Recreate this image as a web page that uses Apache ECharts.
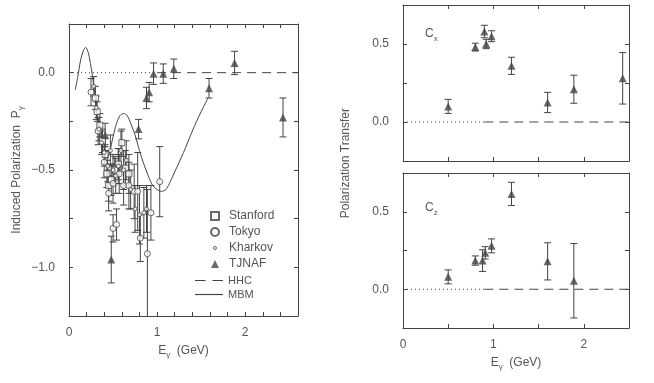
<!DOCTYPE html>
<html>
<head>
<meta charset="utf-8">
<script src="https://cdn.jsdelivr.net/npm/echarts@6/dist/echarts.min.js"></script>
<style>
  html, body { margin: 0; padding: 0; background: #fff; }
  #chart { width: 654px; height: 383px; }
</style>
</head>
<body>
<div id="chart"></div>
<script>
// [E (GeV), value, error]
const stanford = [
    [0.30, -0.13, 0.06], [0.32, -0.20, 0.05], [0.35, -0.27, 0.06], [0.38, -0.35, 0.06],
    [0.41, -0.42, 0.05], [0.43, -0.52, 0.07], [0.45, -0.58, 0.08], [0.48, -0.55, 0.08],
    [0.52, -0.50, 0.07], [0.56, -0.47, 0.08], [0.60, -0.36, 0.07], [0.64, -0.49, 0.09],
    [0.68, -0.52, 0.10]
];
const tokyo = [
    [0.25, -0.10, 0.07], [0.33, -0.30, 0.07], [0.40, -0.46, 0.08], [0.45, -0.62, 0.09],
    [0.50, -0.80, 0.07], [0.54, -0.78, 0.08], [0.50, -0.57, 0.10], [0.57, -0.52, 0.10],
    [0.62, -0.58, 0.10], [0.68, -0.58, 0.12], [0.74, -0.61, 0.14], [0.78, -0.61, 0.20],
    [0.81, -0.85, 0.12], [0.89, -0.93, 0.33], [0.93, -0.72, 0.14], [1.03, -0.56, 0.18]
];
const kharkov = [
    [0.28, -0.07, 0.05], [0.31, -0.18, 0.06], [0.34, -0.29, 0.06], [0.37, -0.36, 0.06],
    [0.40, -0.41, 0.07], [0.44, -0.48, 0.08], [0.47, -0.40, 0.08], [0.50, -0.50, 0.08],
    [0.53, -0.53, 0.09], [0.56, -0.48, 0.09], [0.59, -0.40, 0.10], [0.62, -0.50, 0.10],
    [0.65, -0.45, 0.10], [0.70, -0.60, 0.10], [0.75, -0.70, 0.12], [0.80, -0.73, 0.15],
    [0.85, -0.72, 0.13], [0.88, -0.70, 0.12]
];
const jnafPy = [
    [0.41, -0.32, 0.06], [0.48, -0.96, 0.12], [0.79, -0.29, 0.05], [0.88, -0.13, 0.055],
    [0.91, -0.10, 0.05], [0.96, -0.005, 0.055], [1.07, -0.005, 0.05], [1.19, 0.02, 0.05],
    [1.59, -0.08, 0.05], [1.88, 0.05, 0.06], [2.43, -0.23, 0.10]
];
const jnafCx = [
    [0.50, 0.10, 0.045], [0.80, 0.48, 0.025], [0.90, 0.58, 0.04], [0.92, 0.50, 0.03],
    [0.98, 0.55, 0.035], [1.20, 0.36, 0.055], [1.60, 0.125, 0.065], [1.89, 0.21, 0.09],
    [2.43, 0.28, 0.165]
];
const jnafCz = [
    [0.50, 0.08, 0.045], [0.80, 0.185, 0.03], [0.88, 0.185, 0.07], [0.91, 0.235, 0.04],
    [0.98, 0.28, 0.045], [1.20, 0.615, 0.075], [1.60, 0.18, 0.12], [1.89, 0.055, 0.24]
];
// MBM model curve
const mbm = [
    [0.07, -0.09], [0.10, -0.02], [0.13, 0.06], [0.16, 0.11], [0.19, 0.13], [0.22, 0.10],
    [0.25, 0.03], [0.28, -0.06], [0.31, -0.17], [0.34, -0.28], [0.37, -0.37], [0.40, -0.43],
    [0.43, -0.44], [0.46, -0.41], [0.50, -0.33], [0.54, -0.26], [0.58, -0.22], [0.62, -0.21],
    [0.66, -0.22], [0.70, -0.26], [0.75, -0.32], [0.80, -0.40], [0.85, -0.47], [0.90, -0.53],
    [0.95, -0.58], [1.00, -0.60], [1.05, -0.61], [1.10, -0.60], [1.15, -0.56], [1.20, -0.51],
    [1.30, -0.41], [1.40, -0.30], [1.50, -0.20], [1.58, -0.13]
];
const hhcLeft = [[1.0, 0], [2.6, 0]];
const zeroLeft = [[0, 0], [1.0, 0]];
const hhcRight = [[0.9, 0], [2.5, 0]];
const zeroRight = [[0, 0], [0.9, 0]];

const INK = '#444';
const TXT = '#555';
const FONT = 'Liberation Sans';

const fmtInt = v => Math.abs(v - Math.round(v)) < 1e-6 ? String(Math.round(v)) : '';
const fmtHalf = v => {
    const r = Math.round(v * 2) / 2;
    if (Math.abs(v - r) > 1e-6) return '';
    return r < 0 ? '\u2212' + Math.abs(r).toFixed(1) : r.toFixed(1);
};

const rich = {
    e: { color: TXT, fontFamily: FONT, fontSize: 12 },
    s: { color: TXT, fontFamily: FONT, fontSize: 8, verticalAlign: 'bottom', padding: [0, 0, -2, 0] }
};

function xAxes(grid, max, interval, name) {
    const base = {
        gridIndex: grid, type: 'value', min: 0, max, interval,
        axisLine: { onZero: false, lineStyle: { color: INK } },
        axisTick: { inside: true, length: 4, lineStyle: { color: INK } },
        splitLine: { show: false }
    };
    const bottom = Object.assign({}, base, {
        position: 'bottom',
        axisLabel: { show: !!name, color: TXT, fontFamily: FONT, fontSize: 12, margin: 11, formatter: fmtInt },
        name: name ? '{e|E}{s|\u03b3}{e|  (GeV)}' : '',
        nameLocation: 'middle', nameGap: 29,
        nameTextStyle: { rich }
    });
    const top = Object.assign({}, base, { position: 'top', axisLabel: { show: false } });
    return [bottom, top];
}

function yAxes(grid, min, max, name) {
    const base = {
        gridIndex: grid, type: 'value', min, max, interval: 0.25,
        axisLine: { onZero: false, lineStyle: { color: INK } },
        axisTick: { inside: true, length: 4, lineStyle: { color: INK } },
        splitLine: { show: false }
    };
    const left = Object.assign({}, base, {
        position: 'left',
        axisLabel: { color: TXT, fontFamily: FONT, fontSize: 12, margin: 14, formatter: fmtHalf },
        name: name || '',
        nameLocation: 'middle', nameGap: 46, nameRotate: 90,
        nameTextStyle: { rich }
    });
    const right = Object.assign({}, base, { position: 'right', axisLabel: { show: false } });
    return [left, right];
}

function errorBars(data, xi, yi) {
    return {
        type: 'custom', xAxisIndex: xi, yAxisIndex: yi, silent: true, clip: true, z: 1,
        data: data.map(d => [d[0], d[1] - d[2], d[1] + d[2]]),
        encode: { x: 0, y: [1, 2] },
        renderItem: (params, api) => {
            const x = api.value(0);
            const lo = api.coord([x, api.value(1)]);
            const hi = api.coord([x, api.value(2)]);
            const w = 3.5;
            const style = { stroke: INK, lineWidth: 1 };
            return {
                type: 'group',
                children: [
                    { type: 'line', shape: { x1: lo[0], y1: lo[1], x2: hi[0], y2: hi[1] }, style },
                    { type: 'line', shape: { x1: lo[0] - w, y1: lo[1], x2: lo[0] + w, y2: lo[1] }, style },
                    { type: 'line', shape: { x1: hi[0] - w, y1: hi[1], x2: hi[0] + w, y2: hi[1] }, style }
                ]
            };
        }
    };
}

function points(name, data, xi, yi, symbol, size, filled) {
    return {
        name, type: 'scatter', xAxisIndex: xi, yAxisIndex: yi, z: 3,
        symbol, symbolSize: size,
        data: data.map(d => [d[0], d[1]]),
        itemStyle: { color: filled ? INK : '#fff', borderColor: INK, borderWidth: filled ? 0 : 1 }
    };
}

function flatLine(name, data, xi, yi, type) {
    return {
        name, type: 'line', xAxisIndex: xi, yAxisIndex: yi, data, showSymbol: false, symbol: 'none',
        silent: true, z: 2,
        itemStyle: { color: INK },
        lineStyle: { color: INK, width: 1, type }
    };
}

function subLabel(left, top, sub) {
    return {
        type: 'text', left, top,
        style: {
            text: '{c|C}{s|' + sub + '}',
            rich: {
                c: { fill: TXT, fontFamily: FONT, fontSize: 12 },
                s: { fill: TXT, fontFamily: FONT, fontSize: 8, verticalAlign: 'bottom', padding: [0, 0, -3, 0] }
            }
        }
    };
}

const x0 = xAxes(0, 2.6, 0.2, true);
const x1 = xAxes(1, 2.5, 0.5, false);
const x2 = xAxes(2, 2.5, 0.5, true);
const y0 = yAxes(0, -1.25, 0.25, '{e|Induced Polarization  P}{s|\u03b3}');
const y1 = yAxes(1, -0.25, 0.75);
const y2 = yAxes(2, -0.25, 0.75);

const chart = echarts.init(document.getElementById('chart'), null, { renderer: 'canvas' });
chart.setOption({
    animation: false,
    backgroundColor: '#fff',
    textStyle: { fontFamily: FONT },
    grid: [
        { left: 69, top: 24, width: 229, height: 292 },
        { left: 403, top: 5, width: 226, height: 156 },
        { left: 403, top: 173, width: 226, height: 155 }
    ],
    xAxis: [x0[0], x0[1], x1[0], x1[1], x2[0], x2[1]],
    yAxis: [y0[0], y0[1], y1[0], y1[1], y2[0], y2[1]],
    legend: [
        {
            orient: 'vertical', left: 205, top: 205,
            itemWidth: 8, itemHeight: 8, itemGap: 4,
            textStyle: { color: TXT, fontFamily: FONT, fontSize: 12, padding: [0, 0, 0, 5] },
            data: [
                'Stanford', 'Tokyo',
                {
                    name: 'Kharkov',
                    icon: 'path://M0,0L0.01,0M8,8L8.01,8M5.5,4A1.5,1.5,0,1,1,2.5,4A1.5,1.5,0,1,1,5.5,4Z',
                    itemStyle: { color: '#fff', borderColor: INK, borderWidth: 1 }
                },
                'TJNAF'
            ]
        },
        {
            orient: 'vertical', left: 190, top: 270,
            itemWidth: 28, itemHeight: 8, itemGap: 3,
            textStyle: { color: TXT, fontFamily: FONT, fontSize: 11 },
            data: [
                { name: 'HHC', icon: 'path://M0,0h9v1h-9zM15,0h9v1h-9z' },
                { name: 'MBM', icon: 'path://M0,0h24v1h-24z' }
            ]
        }
    ],
    graphic: [
        {
            type: 'text', left: 340, top: 108, rotation: Math.PI / 2,
            style: { text: 'Polarization Transfer', fill: TXT, font: '12px "Liberation Sans"' }
        },
        subLabel(425, 28, 'x'),
        subLabel(425, 202, 'z')
    ],
    series: [
        flatLine('zero', zeroLeft, 0, 0, [1, 3]),
        flatLine('HHC', hhcLeft, 0, 0, [9, 6]),
        Object.assign(flatLine('MBM', mbm, 0, 0, 'solid'), { smooth: 0.3 }),
        errorBars(stanford, 0, 0),
        errorBars(tokyo, 0, 0),
        errorBars(kharkov, 0, 0),
        errorBars(jnafPy, 0, 0),
        points('Stanford', stanford, 0, 0, 'rect', 6, false),
        points('Tokyo', tokyo, 0, 0, 'circle', 6, false),
        points('Kharkov', kharkov, 0, 0, 'circle', 4, false),
        points('TJNAF', jnafPy, 0, 0, 'triangle', 8, true),

        flatLine('zero1', zeroRight, 2, 2, [1, 3]),
        flatLine('hhc1', hhcRight, 2, 2, [9, 6]),
        errorBars(jnafCx, 2, 2),
        points('cx', jnafCx, 2, 2, 'triangle', 8, true),

        flatLine('zero2', zeroRight, 4, 4, [1, 3]),
        flatLine('hhc2', hhcRight, 4, 4, [9, 6]),
        errorBars(jnafCz, 4, 4),
        points('cz', jnafCz, 4, 4, 'triangle', 8, true)
    ]
});
</script>
</body>
</html>
